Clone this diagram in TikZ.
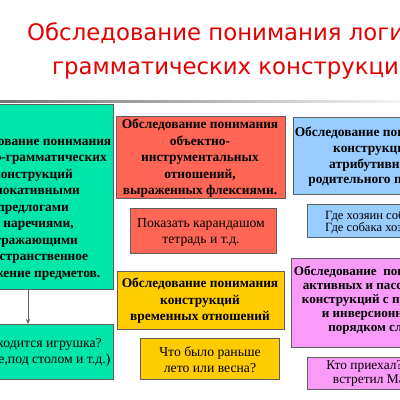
\documentclass[tikz,border=0pt]{standalone}
\usepackage{fontspec}
\usetikzlibrary{arrows.meta}
\setmainfont{Liberation Serif}
\newfontfamily\titlefont{DejaVu Sans}
\definecolor{tred}{RGB}{228,0,0}
\definecolor{bgreen}{RGB}{0,230,170}
\definecolor{bred}{RGB}{255,102,85}
\definecolor{byellow}{RGB}{255,204,0}
\definecolor{bblue}{RGB}{153,204,255}
\definecolor{bpink}{RGB}{250,155,250}
\definecolor{bline}{RGB}{95,95,95}
\tikzset{
  box/.style={draw=bline, line width=1pt, inner sep=0pt, anchor=north west},
  btxt/.style={align=center, inner sep=0pt, font=\bfseries\fontsize{13.4}{16.5}\selectfont},
  rtxt/.style={align=center, inner sep=0pt, font=\fontsize{13.7}{16}\selectfont},
  ttl/.style={anchor=base west, inner sep=0pt, text=tred, font=\titlefont\fontsize{22.8}{26}\selectfont}
}
\begin{document}
\begin{tikzpicture}[x=1pt,y=-1pt]
\useasboundingbox (0,0) rectangle (400,400);
\clip (0,0) rectangle (400,400);
\fill[white] (0,0) rectangle (400,400);
% title
\node[ttl] (t1) at (27,40) {Обследование понимания логико-};
\node[ttl] (t2) at (52,74) {грамматических конструкций};
% gray rule
\shade[left color=gray!90!black, right color=gray!8] (0,100) rectangle (400,102);
% green boxes
\node[box, fill=bgreen, minimum width=171pt, minimum height=185pt] (g1) at (-58,104) {};
\node[btxt] (g1t) at (33,208) {Обследование понимания\\логико-грамматических\\конструкций\\с локативными\\предлогами\\и наречиями,\\отражающими\\пространственное\\положение предметов.};
\node[box, fill=bgreen, minimum width=171pt, minimum height=55pt] (g2) at (-58,324) {};
\node[rtxt] (g2t) at (31,352) {Где находится игрушка?\\(на столе,под столом и т.д.)};
\draw[bline, line width=0.8pt, -{Stealth[length=5pt,width=4pt]}] (g1.south) -- (g2.north);
% red boxes
\node[box, fill=bred, minimum width=169pt, minimum height=82pt] (r1) at (116,116) {};
\node[btxt] (r1t) at (200,158.5) {Обследование понимания\\объектно-\\инструментальных\\отношений,\\выраженных флексиями.};
\node[box, fill=bred, minimum width=146pt, minimum height=45pt] (r2) at (130,208) {};
\node[rtxt] (r2t) at (201,232) {Показать карандашом\\тетрадь и т.д.};
% yellow boxes
\node[box, fill=byellow, minimum width=167pt, minimum height=58pt] (y1) at (117,271) {};
\node[btxt] (y1t) at (200,301) {Обследование понимания\\конструкций\\временных отношений};
\node[box, fill=byellow, minimum width=139pt, minimum height=41pt] (y2) at (140,338) {};
\node[rtxt] (y2t) at (210,359.5) {Что было раньше\\лето или весна?};
% blue boxes
\node[box, fill=bblue, minimum width=162pt, minimum height=77pt] (b1) at (293,117) {};
\node[btxt, font=\bfseries\fontsize{13.4}{15.7}\selectfont] (b1t) at (373,157) {Обследование понимания\\конструкций\\атрибутивных\\родительного падежа};
\node[box, fill=bblue, minimum width=148pt, minimum height=33pt] (b2) at (307,204) {};
\node[rtxt, align=left, anchor=west, font=\fontsize{12.6}{12}\selectfont] (b2t) at (325,222.5) {Где хозяин собаки?\\Где собака хозяина?};
% pink boxes
\node[box, fill=bpink, minimum width=164pt, minimum height=89pt] (p1) at (291,258) {};
\node[btxt, font=\bfseries\fontsize{13.1}{14}\selectfont] (p1t) at (372,300.5) {Обследование\ \ понимания\\активных и пассивных\\конструкций с прямым\\и инверсионным\\порядком слов};
\node[box, fill=bpink, minimum width=148pt, minimum height=32pt] (p2) at (307,357) {};
\node[rtxt, font=\fontsize{13.4}{14}\selectfont] (p2t) at (380,373.5) {Кто приехал? Кого\\встретил Маша?};
\end{tikzpicture}
\end{document}
